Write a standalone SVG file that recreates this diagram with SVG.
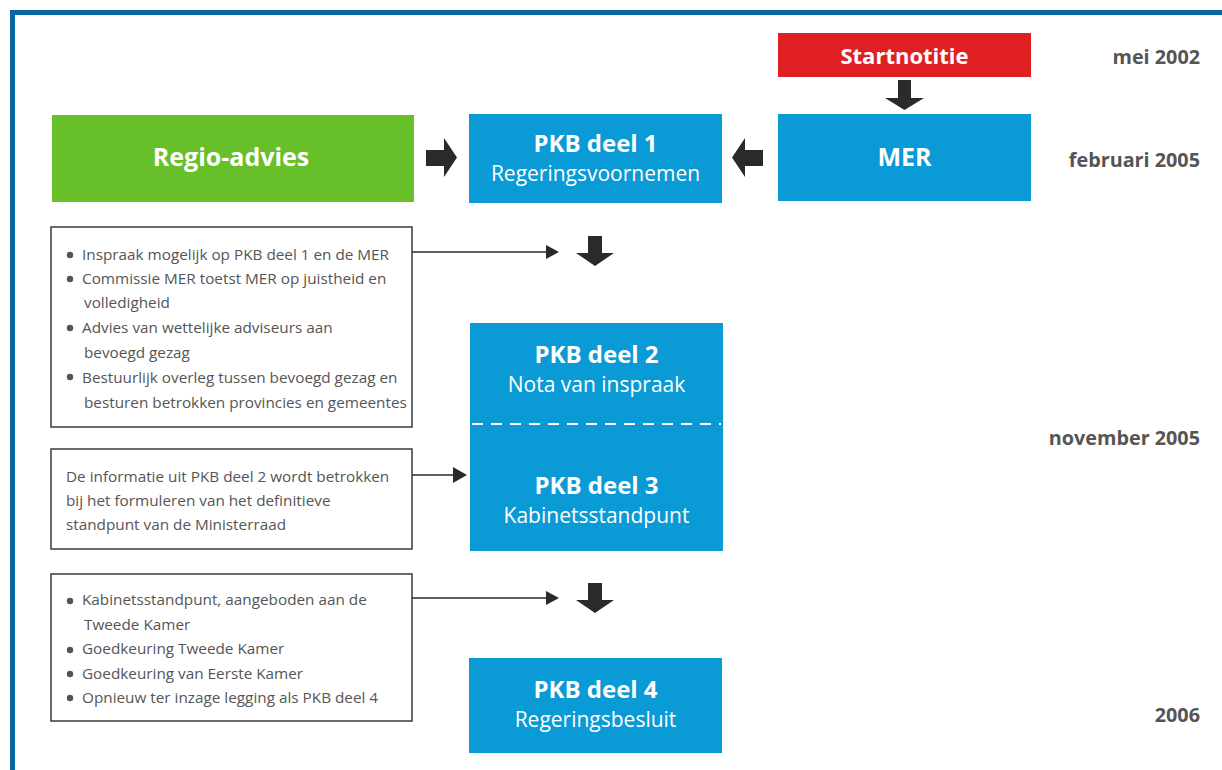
<svg xmlns="http://www.w3.org/2000/svg" width="1222" height="770" viewBox="0 0 1222 770">
<style>
.frame{fill:none;stroke:#0a67a6;stroke-width:5}
.blue{fill:#0a9ad6}
.green{fill:#67bf2a}
.red{fill:#e01f22}
.note{fill:#fff;stroke:#3a3a3a;stroke-width:1.5}
.title{font-family:"Open Sans","Liberation Sans",sans-serif;font-weight:bold;fill:#fff;text-anchor:middle}
.sub{font-family:"Open Sans","Liberation Sans",sans-serif;fill:#fff;text-anchor:middle;font-size:21px}
.date{font-family:"Open Sans","Liberation Sans",sans-serif;font-weight:bold;fill:#555;text-anchor:end;font-size:19.8px}
.txt{font-family:"Open Sans","Liberation Sans",sans-serif;fill:#555;font-size:15.3px}
.dot{fill:#555}
.big{fill:#2a2a2a}
.line{stroke:#2a2a2a;stroke-width:1.5;fill:none}
.head{fill:#2a2a2a}
.dash{stroke:#fff;stroke-width:2;stroke-dasharray:11 8}
</style>
<path class="frame" d="M12.5 770 V12.5 H1222"/>

<g id="startnotitie">
<rect class="red" x="778" y="33" width="253" height="44"/>
<text class="title" x="904.5" y="64" font-size="22">Startnotitie</text>
</g>
<g id="mer">
<rect class="blue" x="778" y="114" width="253" height="87"/>
<text class="title" x="904.5" y="166" font-size="25">MER</text>
</g>
<g id="regio-advies">
<rect class="green" x="52" y="115" width="362" height="87"/>
<text class="title" x="231" y="166" font-size="25">Regio-advies</text>
</g>
<g id="pkb1">
<rect class="blue" x="469" y="114" width="253" height="89"/>
<text class="title" x="595.5" y="152" font-size="24">PKB deel 1</text>
<text class="sub" x="595.5" y="181">Regeringsvoornemen</text>
</g>
<g id="pkb23">
<rect class="blue" x="470" y="323" width="253" height="228"/>
<line class="dash" x1="472" y1="424" x2="721" y2="424"/>
<text class="title" x="596.5" y="363" font-size="24">PKB deel 2</text>
<text class="sub" x="596.5" y="392">Nota van inspraak</text>
<text class="title" x="596.5" y="494" font-size="24">PKB deel 3</text>
<text class="sub" x="596.5" y="523">Kabinetsstandpunt</text>
</g>
<g id="pkb4">
<rect class="blue" x="469" y="658" width="253" height="95"/>
<text class="title" x="595.5" y="698" font-size="24">PKB deel 4</text>
<text class="sub" x="595.5" y="727">Regeringsbesluit</text>
</g>

<g id="note1">
<rect class="note" x="51" y="227" width="361" height="200"/>
<circle class="dot" cx="70" cy="255" r="3.2"/>
<circle class="dot" cx="70" cy="279" r="3.2"/>
<circle class="dot" cx="70" cy="328" r="3.2"/>
<circle class="dot" cx="70" cy="377" r="3.2"/>
<text class="txt" x="82" y="260">Inspraak mogelijk op PKB deel 1 en de MER</text>
<text class="txt" x="82" y="284">Commissie MER toetst MER op juistheid en</text>
<text class="txt" x="84" y="308">volledigheid</text>
<text class="txt" x="82" y="333">Advies van wettelijke adviseurs aan</text>
<text class="txt" x="84" y="358">bevoegd gezag</text>
<text class="txt" x="82" y="383">Bestuurlijk overleg tussen bevoegd gezag en</text>
<text class="txt" x="84" y="408">besturen betrokken provincies en gemeentes</text>
</g>
<g id="note2">
<rect class="note" x="51" y="449" width="361" height="100"/>
<text class="txt" x="66" y="482">De informatie uit PKB deel 2 wordt betrokken</text>
<text class="txt" x="66" y="506">bij het formuleren van het definitieve</text>
<text class="txt" x="66" y="530">standpunt van de Ministerraad</text>
</g>
<g id="note3">
<rect class="note" x="51" y="574" width="361" height="147"/>
<circle class="dot" cx="70" cy="601" r="3.2"/>
<circle class="dot" cx="70" cy="650" r="3.2"/>
<circle class="dot" cx="70" cy="674" r="3.2"/>
<circle class="dot" cx="70" cy="698" r="3.2"/>
<text class="txt" x="82" y="605">Kabinetsstandpunt, aangeboden aan de</text>
<text class="txt" x="84" y="630">Tweede Kamer</text>
<text class="txt" x="82" y="654">Goedkeuring Tweede Kamer</text>
<text class="txt" x="82" y="679">Goedkeuring van Eerste Kamer</text>
<text class="txt" x="82" y="703">Opnieuw ter inzage legging als PKB deel 4</text>
</g>

<g id="dates">
<text class="date" x="1200" y="64">mei 2002</text>
<text class="date" x="1200" y="167">februari 2005</text>
<text class="date" x="1200" y="445">november 2005</text>
<text class="date" x="1200" y="722">2006</text>
</g>

<g id="connectors">
<path class="big" d="M898 80 H911 V98 H924 L904.5 110 L885 98 H898 Z"/>
<path class="big" d="M426 150 H444 V138 L457 157.5 L444 177 V166 H426 Z"/>
<path class="big" d="M763 150 H745 V138 L732 157.5 L745 177 V166 H763 Z"/>
<path class="big" d="M588 236 H602 V253 H614 L595 266 L576 253 H588 Z"/>
<path class="big" d="M588 583 H602 V600 H614 L595 613 L576 600 H588 Z"/>
<line class="line" x1="412" y1="252" x2="548" y2="252"/>
<path class="head" d="M546 245 L559 252 L546 259 Z"/>
<line class="line" x1="412" y1="475" x2="455" y2="475"/>
<path class="head" d="M453 467 L467 475 L453 483 Z"/>
<line class="line" x1="412" y1="598" x2="548" y2="598"/>
<path class="head" d="M546 591 L559 598 L546 605 Z"/>
</g>
</svg>
